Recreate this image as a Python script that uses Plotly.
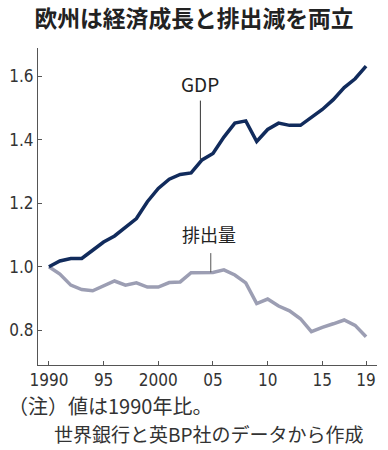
import plotly.graph_objects as go

years = list(range(1990, 2020))
gdp = [1.000, 1.018, 1.026, 1.026, 1.052, 1.078, 1.097, 1.123, 1.152, 1.205,
       1.247, 1.276, 1.291, 1.296, 1.337, 1.357, 1.409, 1.453, 1.460, 1.395,
       1.433, 1.453, 1.446, 1.446, 1.471, 1.496, 1.527, 1.565, 1.593, 1.633]
emis = [1.000, 0.977, 0.942, 0.928, 0.924, 0.938, 0.955, 0.942, 0.949, 0.936,
        0.936, 0.950, 0.952, 0.981, 0.981, 0.982, 0.990, 0.974, 0.949, 0.884,
        0.898, 0.876, 0.861, 0.836, 0.795, 0.809, 0.820, 0.832, 0.815, 0.779]
xtick_vals = [1990, 1995, 2000, 2005, 2010, 2015, 2019]
xtick_text = ["1990", "95", "2000", "05", "10", "15", "19"]
ytick_vals = [0.8, 1.0, 1.2, 1.4, 1.6]
ytick_text = ["0.8", "1.0", "1.2", "1.4", "1.6"]

title = "欧州は経済成長と排出減を両立"
note1 = "（注）値は1990年比。"
note2 = "世界銀行と英BP社のデータから作成"

CJK = "Noto Sans CJK JP"
NARROW = "DejaVu Sans Condensed, Liberation Sans Narrow, Liberation Sans, sans-serif"

fig = go.Figure()
fig.add_trace(go.Scatter(x=years, y=emis, mode="lines",
                         line=dict(color="#9c9eb3", width=3.5), hoverinfo="skip"))
fig.add_trace(go.Scatter(x=years, y=gdp, mode="lines",
                         line=dict(color="#112b5c", width=3.5), hoverinfo="skip"))

# leader lines
fig.add_shape(type="line", xref="x", yref="y", x0=2003.85, x1=2003.85, y0=1.524, y1=1.339,
              line=dict(color="#333333", width=1))
fig.add_shape(type="line", xref="x", yref="y", x0=2004.8, x1=2004.8, y0=1.043, y1=0.982,
              line=dict(color="#555555", width=1))

fig.add_annotation(x=2003.85, y=1.524, xref="x", yref="y", text="GDP", showarrow=False,
                   yanchor="bottom", xanchor="center", yshift=2,
                   font=dict(family=CJK, size=19, color="#222222"))
fig.add_annotation(x=2004.6, y=1.043, xref="x", yref="y", text="排出量", showarrow=False,
                   yanchor="bottom", xanchor="center", yshift=4,
                   font=dict(family=CJK, size=18, color="#222222"))

fig.add_annotation(x=(6 - 38) / 339, y=(365 - 405) / 317, xref="paper", yref="paper",
                   text=note1, showarrow=False, xanchor="left", yanchor="middle",
                   font=dict(family=CJK, size=20, color="#333333"))
fig.add_annotation(x=(52 - 38) / 339, y=(365 - 433) / 317, xref="paper", yref="paper",
                   text=note2, showarrow=False, xanchor="left", yanchor="middle",
                   font=dict(family=CJK, size=19, color="#333333"))

fig.update_layout(
    width=388, height=450,
    margin=dict(l=38, r=11, t=48, b=85, autoexpand=False),
    paper_bgcolor="white", plot_bgcolor="white",
    showlegend=False,
    title=dict(text="<b>" + title + "</b>", x=0.5, xanchor="center", y=1 - 19 / 450,
               yanchor="middle", font=dict(family=CJK, size=22.8, color="#222222")),
    xaxis=dict(range=[1989, 2020], tickvals=xtick_vals, ticktext=xtick_text, automargin=False,
               showgrid=False, zeroline=False, showline=True, linecolor="#555555", linewidth=1,
               ticks="inside", ticklen=4, tickcolor="#555555",
               tickfont=dict(family=NARROW, size=17, color="#333333")),
    yaxis=dict(range=[0.69, 1.69], tickvals=ytick_vals, ticktext=ytick_text, automargin=False,
               showgrid=False, zeroline=False, showline=True, linecolor="#555555", linewidth=1,
               ticks="inside", ticklen=4, tickcolor="#555555",
               tickfont=dict(family=NARROW, size=17, color="#333333")),
)

fig.write_html("out.html", config={"displayModeBar": False},
               post_script="document.body.style.margin='0';document.body.style.overflow='hidden';")
